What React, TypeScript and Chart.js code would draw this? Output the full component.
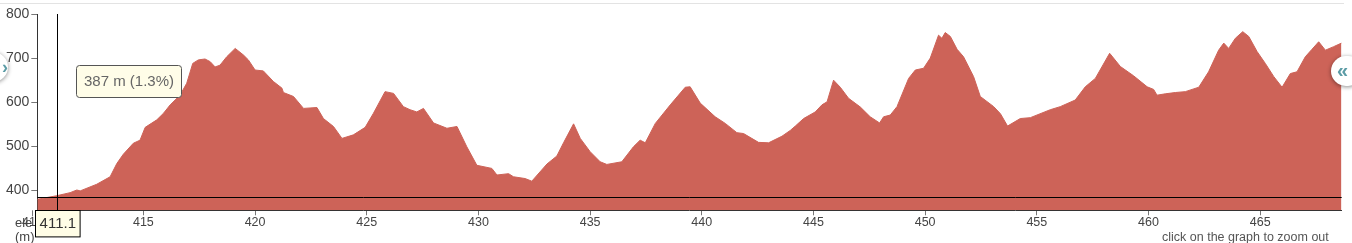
import React, { useEffect, useRef } from "react";
import { Chart, registerables } from "chart.js";

Chart.register(...registerables);

// ---- data ----
const distanceKm: number[] = [
  410.25, 411.12, 411.72, 412.02, 412.17, 412.91, 413.51, 413.81, 414.1, 414.55,
  414.85, 415.08, 415.6, 415.9, 416.2, 416.64, 416.94, 417.21, 417.46, 417.76,
  417.99, 418.21, 418.43, 418.73, 419.11, 419.48, 419.7, 420.0, 420.37, 420.82,
  421.2, 421.27, 421.72, 422.17, 422.77, 423.06, 423.51, 423.89, 424.4, 424.93,
  425.3, 425.82, 426.2, 426.64, 426.94, 427.24, 427.54, 427.99, 428.59, 429.04,
  429.48, 429.93, 430.6, 430.83, 431.35, 431.57, 432.09, 432.39, 433.07, 433.51,
  433.81, 434.26, 434.56, 435.0, 435.45, 435.75, 436.42, 436.94, 437.24, 437.47,
  437.92, 438.59, 439.26, 439.48, 439.93, 440.6, 441.05, 441.57, 441.87, 442.54,
  442.99, 443.59, 443.96, 444.19, 444.56, 445.08, 445.38, 445.61, 445.9, 446.2,
  446.57, 447.1, 447.54, 447.96, 448.14, 448.44, 448.74, 449.26, 449.56, 449.93,
  450.23, 450.6, 450.75, 450.9, 451.13, 451.43, 451.72, 452.17, 452.47, 453.07,
  453.37, 453.69, 454.26, 454.71, 455.6, 456.05, 456.72, 457.17, 457.62, 458.26,
  458.74, 459.33, 459.94, 460.23, 460.38, 460.75, 461.2, 461.65, 462.25, 462.69,
  463.14, 463.37, 463.59, 463.89, 464.22, 464.49, 464.86, 465.23, 465.61, 465.98,
  466.35, 466.65, 467.02, 467.32, 467.62, 467.92, 468.29, 468.64,
];

const elevationM: number[] = [
  380, 388, 395, 401, 399, 414, 431, 461, 482, 507,
  514, 543, 560, 575, 594, 616, 643, 688, 696, 698,
  692, 680, 684, 703, 722, 707, 696, 673, 671, 647,
  632, 622, 613, 586, 588, 563, 545, 518, 526, 543,
  575, 624, 620, 590, 583, 578, 586, 553, 541, 545,
  499, 457, 450, 435, 438, 431, 427, 421, 460, 478,
  508, 551, 518, 488, 465, 459, 465, 499, 514, 508,
  552, 594, 634, 635, 598, 567, 552, 531, 529, 509,
  508, 523, 536, 546, 563, 578, 594, 601, 650, 634,
  609, 589, 567, 553, 567, 571, 590, 654, 673, 677,
  700, 752, 745, 758, 749, 720, 703, 658, 613, 590,
  574, 546, 563, 565, 583, 590, 605, 635, 654, 711,
  681, 660, 635, 629, 616, 619, 622, 624, 634, 669,
  718, 734, 722, 745, 760, 749, 715, 688, 658, 634,
  665, 669, 703, 720, 737, 718, 726, 734,
];

const xRange = [410.25, 468.65];
const yRange = [355, 800];
const xTickStep = 5;
const yTickStep = 100;
const cursorKm = 411.12;
const cursorElev = 385;
const tooltipText = "387 m (1.3%)";
const cursorLabel = "411.1";
const hiddenTickKm = 410;
const axisTitleLines = ["ele", "(m)"];
const hintText = "click on the graph to zoom out";

const FILL = "#cd6358";
const FONT = "'Liberation Sans', Arial, sans-serif";

const overlayPlugin = {
  id: "overlay",
  afterDraw(chart: any) {
    const { ctx, chartArea, scales } = chart;
    const xs = scales.x;
    const ys = scales.y;
    const cx = Math.round(xs.getPixelForValue(cursorKm)) + 0.5;
    const cy = Math.round(ys.getPixelForValue(cursorElev)) + 0.5;
    ctx.save();
    // crosshair
    ctx.strokeStyle = "#000";
    ctx.lineWidth = 1;
    ctx.beginPath();
    ctx.moveTo(cx, chartArea.top);
    ctx.lineTo(cx, chartArea.bottom);
    ctx.moveTo(chartArea.left, cy);
    ctx.lineTo(chartArea.right, cy);
    ctx.stroke();

    // hidden tick at 410 (left of plot)
    const hx = Math.round(xs.getPixelForValue(hiddenTickKm)) + 0.5;
    ctx.strokeStyle = "#777";
    ctx.beginPath();
    ctx.moveTo(hx, chartArea.bottom);
    ctx.lineTo(hx, chartArea.bottom + 6);
    ctx.stroke();
    ctx.fillStyle = "#444";
    ctx.font = `12.5px ${FONT}`;
    ctx.textAlign = "center";
    ctx.textBaseline = "middle";
    ctx.fillText(String(hiddenTickKm), hx, chartArea.bottom + 12);

    // axis title
    ctx.textAlign = "left";
    ctx.font = `13px ${FONT}`;
    ctx.fillStyle = "#444";
    ctx.fillText(axisTitleLines[0], 15, chartArea.bottom + 13);
    ctx.fillText(axisTitleLines[1], 15, chartArea.bottom + 27);

    // cursor label box
    const bw = 44.6;
    const bh = 26.4;
    const bx = Math.round(cx - 23) + 0.5;
    const by = Math.round(chartArea.bottom) + 0.5;
    ctx.fillStyle = "#fffde6";
    ctx.fillRect(bx, by, bw, bh);
    ctx.strokeStyle = "#000";
    ctx.strokeRect(bx, by, bw, bh);
    ctx.fillStyle = "#333";
    ctx.font = `15px ${FONT}`;
    ctx.textAlign = "center";
    ctx.fillText(cursorLabel, bx + bw / 2, by + bh / 2 + 0.5);

    // tooltip
    const tx = Math.round(cx + 18) + 0.5;
    const ty = Math.round(chartArea.top + 51) + 0.5;
    const tw = 105;
    const th = 32;
    ctx.beginPath();
    ctx.roundRect(tx, ty, tw, th, 3);
    ctx.fillStyle = "#fffde8";
    ctx.fill();
    ctx.strokeStyle = "#555";
    ctx.stroke();
    ctx.fillStyle = "#666";
    ctx.font = `15px ${FONT}`;
    ctx.fillText(tooltipText, tx + tw / 2, ty + th / 2 + 0.5);
    ctx.restore();
  },
};

export default function App() {
  const canvasRef = useRef<HTMLCanvasElement | null>(null);

  useEffect(() => {
    document.body.style.margin = "0";
    const canvas = canvasRef.current;
    if (!canvas) return;
    const points = distanceKm.map((x, i) => ({ x, y: elevationM[i] }));
    const chart = new Chart(canvas, {
      type: "line",
      data: {
        datasets: [
          {
            data: points,
            fill: "start",
            backgroundColor: FILL,
            borderColor: FILL,
            borderWidth: 1,
            pointRadius: 0,
            tension: 0,
          },
        ],
      },
      options: {
        animation: false,
        responsive: false,
        maintainAspectRatio: false,
        events: [],
        layout: { padding: { top: 14, right: 10.3, left: 0, bottom: 0 } },
        plugins: {
          legend: { display: false },
          tooltip: { enabled: false },
          title: { display: false },
        },
        scales: {
          x: {
            type: "linear",
            min: xRange[0],
            max: xRange[1],
            afterFit: (s: any) => {
              s.height = 32.7;
            },
            ticks: {
              stepSize: xTickStep,
              includeBounds: false,
              color: "#444",
              font: { family: FONT, size: 12.5 },
              padding: 0,
              maxRotation: 0,
            },
            grid: {
              display: true,
              drawOnChartArea: false,
              drawTicks: true,
              tickLength: 5,
              color: "#777",
            },
            border: { display: true, color: "#333", width: 1 },
          },
          y: {
            type: "linear",
            min: yRange[0],
            max: yRange[1],
            afterFit: (s: any) => {
              s.width = 37.3;
            },
            ticks: {
              stepSize: yTickStep,
              includeBounds: false,
              color: "#444",
              font: { family: FONT, size: 14 },
              padding: 2,
            },
            grid: {
              display: true,
              drawOnChartArea: false,
              drawTicks: true,
              tickLength: 6,
              color: "#777",
            },
            border: { display: true, color: "#333", width: 1 },
          },
        },
      },
      plugins: [overlayPlugin],
    });
    return () => chart.destroy();
  }, []);

  return (
    <div
      style={{
        position: "absolute",
        left: 0,
        top: 0,
        width: 1352,
        height: 243,
        overflow: "hidden",
        background: "#fff",
        fontFamily: FONT,
      }}
    >
      <div
        style={{
          position: "absolute",
          left: 0,
          top: 3,
          width: 1344,
          height: 1,
          background: "#e3e3e3",
        }}
      />
      <canvas
        ref={canvasRef}
        width={1352}
        height={243}
        style={{ position: "absolute", left: 0, top: 0, width: 1352, height: 243 }}
      />
      <div
        style={{
          position: "absolute",
          left: -22,
          top: 52,
          width: 30,
          height: 30,
          borderRadius: 15,
          background: "#fff",
          boxShadow: "0 1px 4px rgba(0,0,0,0.45)",
          color: "#5c9ca6",
          fontSize: 18,
          fontWeight: "bold",
          lineHeight: "30px",
          textAlign: "right",
          paddingRight: 0,
          boxSizing: "border-box",
        }}
      >
        ›
      </div>
      <div
        style={{
          position: "absolute",
          left: 1331,
          top: 56,
          width: 32,
          height: 30,
          borderRadius: 15,
          background: "#fff",
          boxShadow: "0 1px 4px rgba(0,0,0,0.45)",
          color: "#5c9ca6",
          fontSize: 20,
          fontWeight: "bold",
          lineHeight: "28px",
          paddingLeft: 6,
          boxSizing: "border-box",
        }}
      >
        «
      </div>
      <div
        style={{
          position: "absolute",
          left: 1162,
          top: 230,
          fontSize: 12.5,
          lineHeight: "15px",
          color: "#555",
          whiteSpace: "nowrap",
        }}
      >
        {hintText}
      </div>
    </div>
  );
}
